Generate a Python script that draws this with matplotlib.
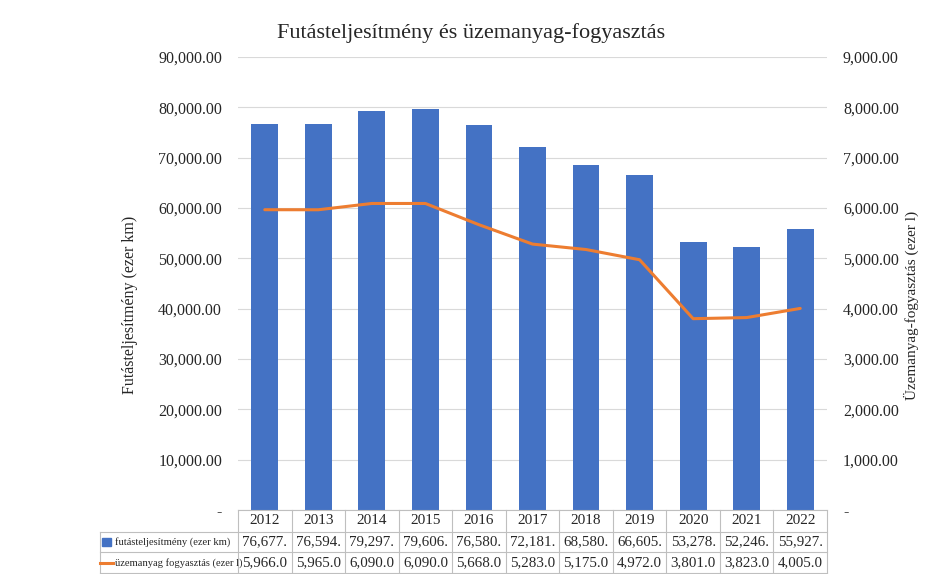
import matplotlib
matplotlib.use("Agg")
import matplotlib.pyplot as plt
import matplotlib.transforms as mtransforms
from matplotlib.lines import Line2D
from matplotlib.patches import Rectangle
from matplotlib.ticker import FuncFormatter, MultipleLocator

years = ["2012", "2013", "2014", "2015", "2016", "2017", "2018", "2019", "2020", "2021", "2022"]
mileage = [76677, 76594, 79297, 79606, 76580, 72181, 68580, 66605, 53278, 52246, 55927]
fuel = [5966, 5965, 6090, 6090, 5668, 5283, 5175, 4972, 3801, 3823, 4005]

title = "Futásteljesítmény és üzemanyag-fogyasztás"
left_label = "Futásteljesítmény (ezer km)"
right_label = "Üzemanyag-fogyasztás (ezer l)"
row_labels = ["futásteljesítmény (ezer km)", "üzemanyag fogyasztás (ezer l)"]

BLUE = "#4472C4"
ORANGE = "#ED7D31"
GRID = "#D9D9D9"
TXT = "#262626"
FONT = "Liberation Serif"

plt.rcParams["font.family"] = [FONT, "DejaVu Serif"]

W, H = 926, 574
fig = plt.figure(figsize=(W / 100, H / 100), dpi=100)
ax_l, ax_r, ax_t, ax_b = 238, 827, 57, 510
ax = fig.add_axes([ax_l / W, 1 - ax_b / H, (ax_r - ax_l) / W, (ax_b - ax_t) / H])
ax2 = ax.twinx()

x = list(range(len(years)))
ax.bar(x, mileage, width=0.5, color=BLUE, zorder=3)
ax2.plot(x, fuel, color=ORANGE, lw=2.2, zorder=4, solid_capstyle="round",
         solid_joinstyle="round")

ax.set_xlim(-0.5, len(years) - 0.5)
ax.set_ylim(0, 90000)
ax2.set_ylim(0, 9000)
ax.yaxis.set_major_locator(MultipleLocator(10000))
ax2.yaxis.set_major_locator(MultipleLocator(1000))

def fmt(v, pos):
    return "-" if v == 0 else f"{v:,.2f}"

ax.yaxis.set_major_formatter(FuncFormatter(fmt))
ax2.yaxis.set_major_formatter(FuncFormatter(fmt))
ax.grid(axis="y", color=GRID, lw=0.8, zorder=0)
ax.set_xticks([])
for a in (ax, ax2):
    for s in a.spines.values():
        s.set_visible(False)
    a.tick_params(axis="y", length=0, labelsize=11.5, labelcolor=TXT, pad=11.5)
ax2.patch.set_visible(False)

fig.text(130 / W, 1 - 305 / H, left_label, rotation=90, ha="center", va="center",
         fontsize=11.5, color=TXT)
fig.text(911 / W, 1 - 305 / H, right_label, rotation=90, ha="center", va="center",
         fontsize=11, color=TXT)
fig.text(471 / W, 1 - 33 / H, title, ha="center", va="center", fontsize=16, color=TXT)

# data table
trans = mtransforms.blended_transform_factory(ax.transData, fig.transFigure)
def fy(py):
    return 1 - py / H

lc = "#BFBFBF"
fig.add_artist(Line2D([ax_l / W, ax_r / W], [fy(510), fy(510)], color=lc, lw=0.8))
for py in (532, 552, 573):
    fig.add_artist(Line2D([100 / W, ax_r / W], [fy(py), fy(py)], color=lc, lw=0.8))
for k in range(len(years) + 1):
    fig.add_artist(Line2D([k - 0.5, k - 0.5], [fy(510), fy(573)], color=lc, lw=0.8,
                          transform=trans))
fig.add_artist(Line2D([100 / W, 100 / W], [fy(532), fy(573)], color=lc, lw=0.8))

for i, yr in enumerate(years):
    fig.text(i, fy(521), yr, transform=trans, ha="center", va="center", fontsize=11, color=TXT)
    fig.text(i, fy(542), f"{mileage[i]:,.2f}"[:7], transform=trans, ha="center", va="center",
             fontsize=10.8, color=TXT)
    fig.text(i, fy(563), f"{fuel[i]:,.2f}"[:7], transform=trans, ha="center", va="center",
             fontsize=10.8, color=TXT)

fig.add_artist(Rectangle((102 / W, fy(546)), 9 / W, 8 / H, color=BLUE, transform=fig.transFigure))
fig.add_artist(Line2D([100 / W, 113 / W], [fy(563), fy(563)], color=ORANGE, lw=2.2))
fig.text(115 / W, fy(542), row_labels[0], ha="left", va="center", fontsize=7.6, color=TXT)
fig.text(115 / W, fy(563), row_labels[1], ha="left", va="center", fontsize=7.6, color=TXT)

fig.savefig("out.png", dpi=100, facecolor="white")
